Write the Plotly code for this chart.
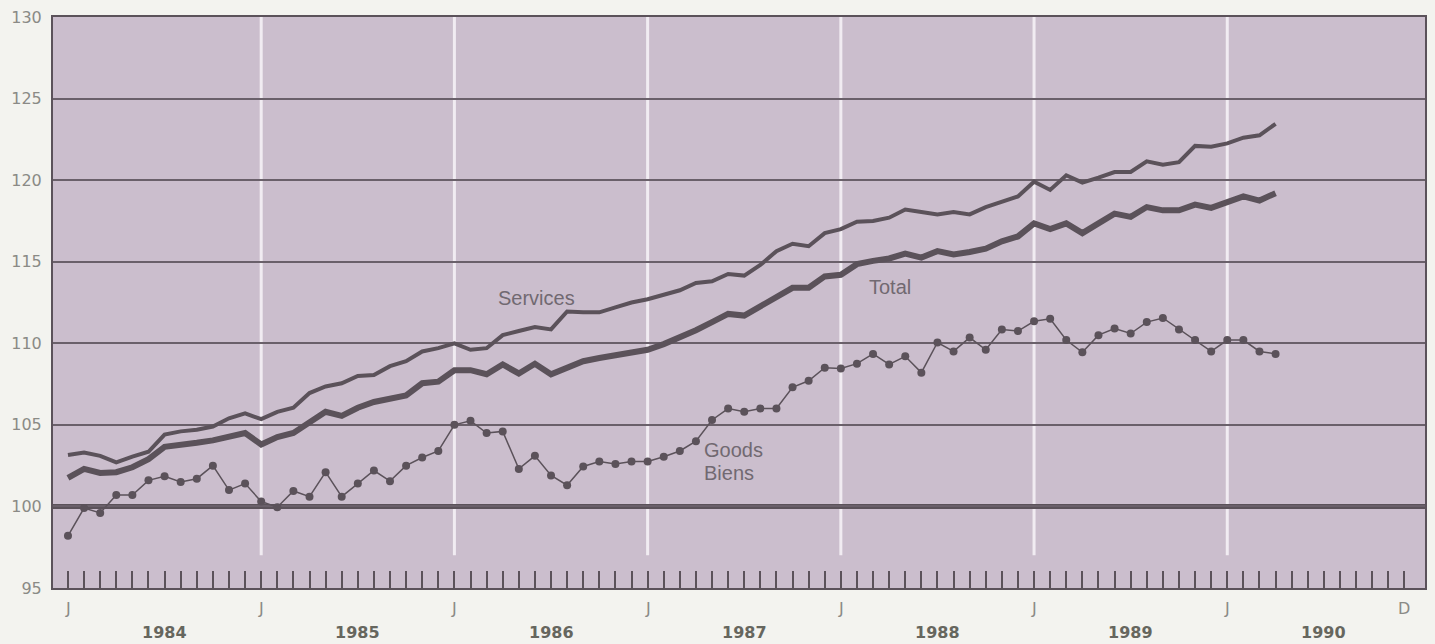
import plotly.graph_objects as go

# Monthly index, January 1984 = 0
months = list(range(76))  # Jan 1984 .. Apr 1990
years = ["1984", "1985", "1986", "1987", "1988", "1989", "1990"]

services = [103.15, 103.3, 103.1, 102.7, 103.05, 103.35, 104.4, 104.6, 104.7, 104.9,
            105.4, 105.7, 105.35, 105.8, 106.05, 106.95, 107.35, 107.55, 108.0, 108.05,
            108.6, 108.9, 109.5, 109.7, 110.0, 109.6, 109.7, 110.5, 110.75, 111.0,
            110.85, 111.95, 111.9, 111.9, 112.2, 112.5, 112.7, 112.95, 113.25, 113.7,
            113.8, 114.25, 114.15, 114.8, 115.65, 116.1, 115.95, 116.75, 117.0, 117.45,
            117.5, 117.7, 118.2, 118.05, 117.9, 118.05, 117.9, 118.35, 118.7, 119.0,
            119.9, 119.4, 120.3, 119.85, 120.15, 120.5, 120.5, 121.15, 120.95, 121.1,
            122.1, 122.05, 122.25, 122.6, 122.75, 123.45]

total = [101.75, 102.3, 102.05, 102.1, 102.4, 102.9, 103.65, 103.75, 103.9, 104.05,
         104.25, 104.5, 103.8, 104.25, 104.5, 105.2, 105.8, 105.55, 106.05, 106.4,
         106.6, 106.8, 107.55, 107.65, 108.35, 108.35, 108.1, 108.7, 108.15, 108.75,
         108.1, 108.5, 108.9, 109.1, 109.25, 109.4, 109.6, 109.95, 110.35, 110.8,
         111.3, 111.8, 111.7, 112.25, 112.85, 113.4, 113.4, 114.1, 114.2, 114.85,
         115.05, 115.2, 115.5, 115.25, 115.65, 115.45, 115.6, 115.8, 116.25, 116.55,
         117.35, 117.0, 117.35, 116.75, 117.35, 117.95, 117.75, 118.35, 118.15, 118.15,
         118.5, 118.3, 118.65, 119.0, 118.75, 119.2]

goods = [98.2, 99.9, 99.6, 100.7, 100.7, 101.6, 101.85, 101.5, 101.7, 102.5,
         101.0, 101.4, 100.3, 99.95, 100.95, 100.6, 102.1, 100.6, 101.4, 102.2,
         101.55, 102.5, 103.0, 103.4, 105.0, 105.25, 104.5, 104.6, 102.3, 103.1,
         101.9, 101.3, 102.45, 102.75, 102.6, 102.75, 102.75, 103.05, 103.4, 104.0,
         105.3, 106.0, 105.8, 106.0, 106.0, 107.3, 107.7, 108.5, 108.45, 108.75,
         109.35, 108.7, 109.2, 108.2, 110.05, 109.5, 110.35, 109.6, 110.85, 110.75,
         111.35, 111.5, 110.2, 109.45, 110.5, 110.9, 110.6, 111.3, 111.55, 110.85,
         110.2, 109.5, 110.2, 110.2, 109.5, 109.35]

LINE = "#5b525a"
BG = "#cbbecd"
PAPER = "#f3f3ef"
TICKFONT = "DejaVu Sans"
LABFONT = "Liberation Sans"
XRANGE = [-0.93, 84.28]

fig = go.Figure()
fig.add_trace(go.Scatter(x=months, y=services, mode="lines", name="Services",
                         line=dict(color=LINE, width=4)))
fig.add_trace(go.Scatter(x=months, y=total, mode="lines", name="Total",
                         line=dict(color=LINE, width=6)))
fig.add_trace(go.Scatter(x=months, y=goods, mode="lines+markers", name="Goods",
                         line=dict(color=LINE, width=1.5),
                         marker=dict(color=LINE, size=8)))

shapes = []
# white January lines
for k in range(1, 7):
    shapes.append(dict(type="line", xref="x", yref="y", x0=12 * k, x1=12 * k,
                       y0=97.0, y1=130, layer="below",
                       line=dict(color="#f1ecf2", width=3)))
# heavy base line at 100 (drawn after the white lines, same layer)
shapes.append(dict(type="line", xref="x", yref="y", x0=XRANGE[0], x1=XRANGE[1],
                   y0=100, y1=100, layer="below", line=dict(color=LINE, width=5)))

annotations = []
for k in range(7):
    annotations.append(dict(x=12 * k, y=0, xref="x", yref="paper", text="J",
                            showarrow=False, yshift=-20, yanchor="middle",
                            font=dict(size=16, color="#8a8a86", family=TICKFONT)))
    annotations.append(dict(x=12 * k + 6, y=0, xref="x", yref="paper",
                            text="<b>" + years[k] + "</b>",
                            showarrow=False, yshift=-44, yanchor="middle",
                            font=dict(size=16, color="#66665e", family=TICKFONT)))
annotations.append(dict(x=83, y=0, xref="x", yref="paper", text="D",
                        showarrow=False, yshift=-20, yanchor="middle",
                        font=dict(size=16, color="#8a8a86", family=TICKFONT)))
lab_font = dict(size=20, color="#716971", family=LABFONT)
annotations.append(dict(x=26.6, y=112.8, xref="x", yref="y", text="Services",
                        showarrow=False, xanchor="left", yanchor="middle", font=lab_font))
annotations.append(dict(x=49.6, y=113.47, xref="x", yref="y", text="Total",
                        showarrow=False, xanchor="left", yanchor="middle", font=lab_font))
annotations.append(dict(x=39.4, y=103.43, xref="x", yref="y", text="Goods",
                        showarrow=False, xanchor="left", yanchor="middle", font=lab_font))
annotations.append(dict(x=39.4, y=102.04, xref="x", yref="y", text="Biens",
                        showarrow=False, xanchor="left", yanchor="middle", font=lab_font))

fig.update_layout(
    width=1435, height=644,
    margin=dict(l=53, r=8, t=15, b=56),
    paper_bgcolor=PAPER, plot_bgcolor=BG,
    showlegend=False,
    shapes=shapes, annotations=annotations,
    font=dict(family=TICKFONT, size=16, color="#8a8a86"),
)
fig.update_xaxes(range=XRANGE, tickvals=list(range(84)), ticks="inside",
                 ticklen=17, tickwidth=2, tickcolor=LINE, showticklabels=False,
                 showgrid=False, zeroline=False, showline=True, linecolor=LINE,
                 linewidth=2, mirror=True)
fig.update_yaxes(range=[95, 130], dtick=5, tick0=95, showgrid=True, gridcolor="#6a606a",
                 gridwidth=2, zeroline=False, showline=True, linecolor=LINE,
                 linewidth=2, mirror=True, ticks="", ticklabelstandoff=6,
                 tickfont=dict(size=16, color="#8a8a86", family=TICKFONT))

fig.write_html("out.html", config={"displayModeBar": False},
               post_script="document.body.style.margin='0';document.body.style.overflow='hidden';document.body.style.background='" + PAPER + "';")
